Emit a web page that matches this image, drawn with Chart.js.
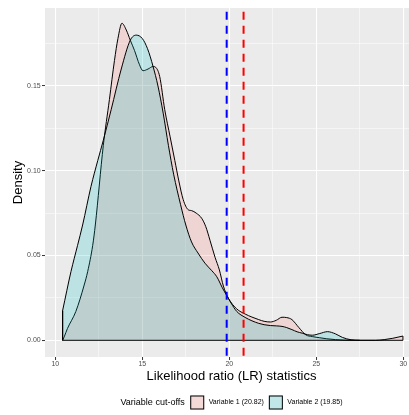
<!DOCTYPE html>
<html>
<head>
<meta charset="utf-8">
<script src="https://cdn.jsdelivr.net/npm/chart.js@4/dist/chart.umd.min.js"></script>
<style>
  html, body { margin: 0; padding: 0; background: #fff; overflow: hidden; }
  #wrap { width: 409px; height: 415px; overflow: hidden; }
</style>
</head>
<body>
<div id="wrap"><canvas id="lr_density" width="418" height="415"></canvas></div>
<script>
(function() {
  'use strict';

  // Kernel density of the LR statistic, Variable 1
  var var1X = [10.42, 10.51, 10.7, 11.18, 11.66, 11.86, 12.15, 12.3, 12.76, 13.11,
    13.4, 13.6, 13.83, 14.08, 14.31, 14.55, 14.84, 15.04, 15.33, 15.62,
    15.77, 16.0, 16.29, 16.6, 16.87, 17.1, 17.35, 17.64, 17.83, 18.1,
    18.41, 18.65, 18.89, 19.18, 19.43, 19.66, 19.95, 20.43, 20.91, 21.3,
    21.69, 22.0, 22.36, 22.7, 23.03, 23.3, 23.6, 24.0, 24.4, 24.77,
    25.2, 25.6, 26.1, 26.6, 27.2, 27.8, 28.4, 28.9, 29.4, 29.98];
  var var1Y = [0.0, 0.002, 0.007, 0.017, 0.0326, 0.0405, 0.056, 0.068, 0.115, 0.142,
    0.165, 0.178, 0.187, 0.183, 0.177, 0.171, 0.1625, 0.159, 0.16, 0.1615,
    0.161, 0.1556, 0.136, 0.12, 0.106, 0.094, 0.083, 0.077, 0.0765, 0.075,
    0.072, 0.067, 0.059, 0.049, 0.0415, 0.032, 0.0248, 0.0185, 0.0155, 0.0137,
    0.0122, 0.0112, 0.0108, 0.0118, 0.0136, 0.0134, 0.0122, 0.0075, 0.0032, 0.0022,
    0.0015, 0.0009, 0.0004, 0.0001, 0.0, 0.0, 0.0, 0.0004, 0.0012, 0.0025];

  // Kernel density of the LR statistic, Variable 2
  var var2X = [10.42, 10.9, 11.28, 11.57, 12.05, 12.44, 12.76, 13.21, 13.79, 14.31,
    14.65, 15.0, 15.3, 15.62, 15.9, 16.2, 16.5, 16.8, 17.2, 17.5,
    17.83, 18.2, 18.6, 19.0, 19.28, 19.6, 19.86, 20.1, 20.43, 20.91,
    21.3, 21.69, 22.0, 22.36, 22.7, 23.03, 23.3, 23.6, 23.9, 24.19,
    24.5, 24.77, 25.2, 25.64, 26.1, 26.5, 27.0, 27.5];
  var var2Y = [0.0175, 0.0405, 0.056, 0.068, 0.0907, 0.106, 0.118, 0.136, 0.16, 0.177,
    0.180, 0.178, 0.172, 0.1615, 0.15, 0.134, 0.115, 0.098, 0.08, 0.068,
    0.058, 0.0515, 0.0455, 0.041, 0.0375, 0.031, 0.0262, 0.022, 0.017, 0.0135,
    0.0115, 0.010, 0.0092, 0.0087, 0.0085, 0.0082, 0.0075, 0.0063, 0.005, 0.0042,
    0.0033, 0.003, 0.004, 0.0051, 0.0038, 0.0017, 0.0003, 0.0];

  var seriesNames = ['Variable 1', 'Variable 2'];
  var cutOffs = [20.82, 19.85];

  var xMajorTicks = [10, 15, 20, 25, 30];
  var xMinorTicks = [12.5, 17.5, 22.5, 27.5];
  var yMajorTicks = [0, 0.05, 0.10, 0.15];
  var yMinorTicks = [0.025, 0.075, 0.125, 0.175];

  var FONT = '"Liberation Sans", Arial, Helvetica, sans-serif';
  var fillColors = ['rgba(248, 118, 109, 0.2)', 'rgba(0, 191, 196, 0.2)'];
  var cutColors = ['#ff0000', '#0000ff'];

  var toPoints = function(xs, ys) {
    return xs.map(function(x, i) { return { x: x, y: ys[i] }; });
  };

  var isMajor = function(list, v) {
    return list.some(function(t) { return Math.abs(t - v) < 1e-9; });
  };

  // Replace the generated ticks with the fixed major + minor breaks
  var fixedTicks = function(major, minor) {
    return function(scale) {
      scale.ticks = major.concat(minor)
        .sort(function(a, b) { return a - b; })
        .map(function(v) { return { value: v }; });
    };
  };

  // Outline along the baseline plus the vertical ends of the two polygons
  var frame = [
    { x: var2X[0], y: var2Y[0] },
    { x: var2X[0], y: 0 },
    { x: var1X[var1X.length - 1], y: 0 },
    { x: var1X[var1X.length - 1], y: var1Y[var1Y.length - 1] }
  ];

  var densityPlugin = {
    id: 'densityPanel',
    beforeDraw: function(chart) {
      var a = chart.chartArea;
      var ctx = chart.ctx;
      ctx.save();
      ctx.fillStyle = '#ffffff';
      ctx.fillRect(0, 0, chart.width, chart.height);
      ctx.fillStyle = '#ebebeb';
      ctx.fillRect(a.left, a.top, a.right - a.left, a.bottom - a.top);
      ctx.restore();
    },
    afterDatasetsDraw: function(chart) {
      var a = chart.chartArea;
      var ctx = chart.ctx;
      var xs = chart.scales.x;
      ctx.save();
      ctx.lineWidth = 2;
      ctx.setLineDash([8, 6]);
      ctx.lineDashOffset = 10.3;
      cutOffs.forEach(function(c, i) {
        var px = xs.getPixelForValue(c);
        ctx.strokeStyle = cutColors[i];
        ctx.beginPath();
        ctx.moveTo(px, a.top);
        ctx.lineTo(px, a.bottom);
        ctx.stroke();
      });
      ctx.restore();
    },
    afterDraw: function(chart) {
      var ctx = chart.ctx;
      var a = chart.chartArea;
      var cy = 402.5;
      var box = 14;
      var title = 'Variable cut-offs';
      var labels = seriesNames.map(function(n, i) {
        return n + ' (' + cutOffs[i].toFixed(2) + ')';
      });

      ctx.save();
      ctx.textBaseline = 'middle';
      ctx.font = '9px ' + FONT;
      var titleW = ctx.measureText(title).width;
      ctx.font = '7px ' + FONT;
      var labelW = labels.map(function(l) { return ctx.measureText(l).width; });
      var total = titleW + 5.5 + box + 4.5 + labelW[0] + 5 + box + 4.5 + labelW[1];
      var x = (a.left + a.right) / 2 - total / 2;

      ctx.fillStyle = '#000';
      ctx.font = '9px ' + FONT;
      ctx.fillText(title, x, cy);
      x += titleW + 5.5;

      labels.forEach(function(l, i) {
        ctx.fillStyle = '#f2f2f2';
        ctx.fillRect(x, cy - box / 2, box, box);
        ctx.fillStyle = fillColors[i];
        ctx.fillRect(x, cy - box / 2, box, box);
        ctx.strokeStyle = '#000';
        ctx.lineWidth = 1;
        ctx.strokeRect(x + 0.5, cy - box / 2 + 0.5, box - 1, box - 1);
        x += box + 4.5;
        ctx.fillStyle = '#000';
        ctx.font = '7px ' + FONT;
        ctx.fillText(l, x, cy);
        x += labelW[i] + 5;
      });
      ctx.restore();
    }
  };

  var canvas = document.getElementById('lr_density').getContext('2d');
  new Chart(canvas, {
    type: 'line',
    data: {
      datasets: [
        {
          label: seriesNames[0],
          data: toPoints(var1X, var1Y),
          borderColor: '#000',
          borderWidth: 1,
          backgroundColor: fillColors[0],
          fill: 'origin',
          cubicInterpolationMode: 'monotone',
          pointRadius: 0,
          order: 2
        },
        {
          label: seriesNames[1],
          data: toPoints(var2X, var2Y),
          borderColor: '#000',
          borderWidth: 1,
          backgroundColor: fillColors[1],
          fill: 'origin',
          cubicInterpolationMode: 'monotone',
          pointRadius: 0,
          order: 1
        },
        {
          label: 'frame',
          data: frame,
          borderColor: '#000',
          borderWidth: 1,
          fill: false,
          tension: 0,
          pointRadius: 0,
          order: 0
        }
      ]
    },
    options: {
      responsive: false,
      animation: false,
      devicePixelRatio: 1,
      layout: { padding: { top: 8, left: 0, right: 0, bottom: 0 } },
      plugins: {
        legend: { display: false },
        tooltip: { enabled: false }
      },
      scales: {
        x: {
          type: 'linear',
          min: 9.408,
          max: 30.845,
          afterBuildTicks: fixedTicks(xMajorTicks, xMinorTicks),
          afterFit: function(scale) { scale.height = 58; },
          border: { display: false },
          grid: {
            color: '#ffffff',
            lineWidth: function(c) { return c.tick && isMajor(xMajorTicks, c.tick.value) ? 1.07 : 0.53; },
            tickColor: function(c) { return c.tick && isMajor(xMajorTicks, c.tick.value) ? '#333333' : 'rgba(0,0,0,0)'; },
            tickWidth: 1,
            tickLength: 3
          },
          ticks: {
            autoSkip: false,
            maxRotation: 0,
            padding: 0,
            color: '#4d4d4d',
            font: { size: 7, family: FONT },
            callback: function(v) { return isMajor(xMajorTicks, v) ? String(v) : ''; }
          },
          title: {
            display: true,
            text: 'Likelihood ratio (LR) statistics',
            color: '#000',
            font: { size: 13, family: FONT },
            padding: { top: 0, bottom: 31.2 }
          }
        },
        y: {
          type: 'linear',
          min: -0.00985,
          max: 0.196,
          afterBuildTicks: fixedTicks(yMajorTicks, yMinorTicks),
          afterFit: function(scale) { scale.width = 45; },
          border: { display: false },
          grid: {
            color: '#ffffff',
            lineWidth: function(c) { return c.tick && isMajor(yMajorTicks, c.tick.value) ? 1.07 : 0.53; },
            tickColor: function(c) { return c.tick && isMajor(yMajorTicks, c.tick.value) ? '#333333' : 'rgba(0,0,0,0)'; },
            tickWidth: 1,
            tickLength: 3
          },
          ticks: {
            autoSkip: false,
            padding: 1.3,
            color: '#4d4d4d',
            font: { size: 7, family: FONT },
            callback: function(v) { return isMajor(yMajorTicks, v) ? v.toFixed(2) : ''; }
          },
          title: {
            display: true,
            text: 'Density',
            color: '#000',
            font: { size: 13, family: FONT },
            padding: { top: 10.2, bottom: 0 }
          }
        }
      }
    },
    plugins: [densityPlugin]
  });
})();
</script>
</body>
</html>
